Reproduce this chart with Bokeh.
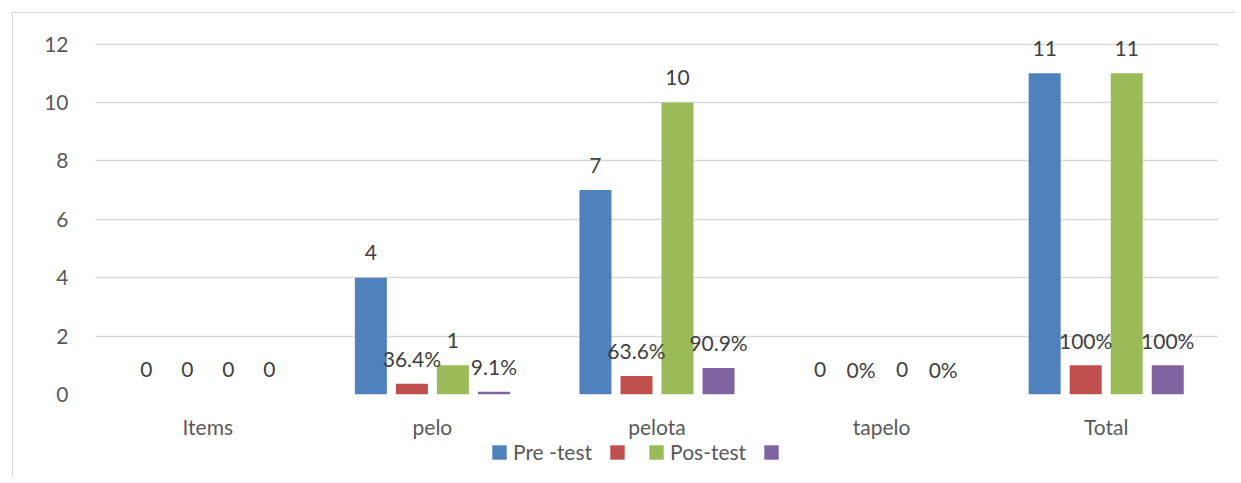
from bokeh.plotting import figure
from bokeh.layouts import column
from bokeh.models import (ColumnDataSource, FactorRange, Range1d, LabelSet, Legend,
                          LegendItem, SingleIntervalTicker, InlineStyleSheet)
from bokeh.core.properties import value
from bokeh.transform import dodge
from bokeh.embed import file_html
from bokeh.resources import INLINE

categories = ["Items", "pelo", "pelota", "tapelo", "Total"]
pre_test = [0, 4, 7, 0, 11]
pre_pct = [0, 0.364, 0.636, 0, 1.0]
pos_test = [0, 1, 10, 0, 11]
pos_pct = [0, 0.091, 0.909, 0, 1.0]
pre_labels = ["0", "4", "7", "0", "11"]
pre_pct_labels = ["0", "36.4%", "63.6%", "0%", "100%"]
pos_labels = ["0", "1", "10", "0", "11"]
pos_pct_labels = ["0", "9.1%", "90.9%", "0%", "100%"]
legend_names = ["Pre -test", " ", "Pos-test", " "]

FONT = "Lato"
colors = ["#4F81BD", "#C0504D", "#9BBB59", "#8064A2"]
offsets = [-0.274, -0.0913, 0.0913, 0.274]
bar_w = 0.1425
W = 1235

frame_css = InlineStyleSheet(css=""":host::after { content: ''; position: absolute; left: 12px; top: 12px;
 right: 0px; bottom: -36px; border-left: 1.5px solid #d9d9d9; border-top: 1.5px solid #d9d9d9;
 pointer-events: none; }""")
left_css = InlineStyleSheet(css=""":host::after { content: ''; position: absolute; left: 12px; top: 0px;
 width: 0px; bottom: 0px; border-left: 1.5px solid #d9d9d9; pointer-events: none; }""")

p = figure(x_range=FactorRange(*categories, range_padding=0), y_range=Range1d(0, 12.5),
           width=W, height=441, output_backend="svg", toolbar_location=None,
           min_border_left=95, min_border_right=17, min_border_top=29, min_border_bottom=44)
p.outline_line_color = None
p.background_fill_color = "white"
p.border_fill_color = "white"
p.stylesheets = [frame_css]

series = [(pre_test, pre_labels), (pre_pct, pre_pct_labels),
          (pos_test, pos_labels), (pos_pct, pos_pct_labels)]
for i, (vals, labs) in enumerate(series):
    src = ColumnDataSource(dict(cat=categories, val=vals, lab=labs))
    p.vbar(x=dodge("cat", offsets[i], range=p.x_range), top="val", width=bar_w,
           source=src, fill_color=colors[i], line_color=None)
    ls = LabelSet(x=dodge("cat", offsets[i], range=p.x_range), y="val", text="lab",
                  source=src, text_align="center", text_baseline="middle", y_offset=25,
                  text_font=value(FONT), text_font_size="21px", text_color="#404040")
    p.add_layout(ls)

p.yaxis.ticker = SingleIntervalTicker(interval=2)
for ax in (p.xaxis, p.yaxis):
    ax.axis_line_color = None
    ax.major_tick_line_color = None
    ax.minor_tick_line_color = None
    ax.major_tick_out = 0
    ax.major_label_text_font = FONT
    ax.major_label_text_font_size = "21px"
    ax.major_label_text_color = "#595959"
p.yaxis.major_label_standoff = 23
p.xaxis.major_label_standoff = 19
p.xgrid.grid_line_color = None
p.ygrid.grid_line_color = "#d9d9d9"
p.ygrid.grid_line_width = 1.5

# legend strip below the chart (its frame is aligned with the chart's frame)
lf = figure(width=W, height=36, output_backend="svg", toolbar_location=None,
            x_range=Range1d(0, 1), y_range=Range1d(0, 1),
            min_border_left=95, min_border_right=17, min_border_top=0, min_border_bottom=0)
lf.axis.visible = False
lf.grid.visible = False
lf.outline_line_color = None
lf.border_fill_color = "white"
lf.stylesheets = [left_css]
items = []
for i in range(4):
    r = lf.vbar(x=[-10], top=[-10], width=0.1, fill_color=colors[i], line_color=None)
    items.append(LegendItem(label=legend_names[i], renderers=[r]))
legend = Legend(items=items, orientation="horizontal", location=(395, 13),
                label_text_font=FONT, label_text_font_size="21px", label_text_color="#595959",
                label_height=25, glyph_width=18, glyph_height=18, label_standoff=5, spacing=16,
                label_width=0, padding=0, margin=0, border_line_color=None,
                background_fill_alpha=0)
lf.add_layout(legend)

layout = column(p, lf, spacing=0)
open("out.html", "w").write(file_html(layout, INLINE))
